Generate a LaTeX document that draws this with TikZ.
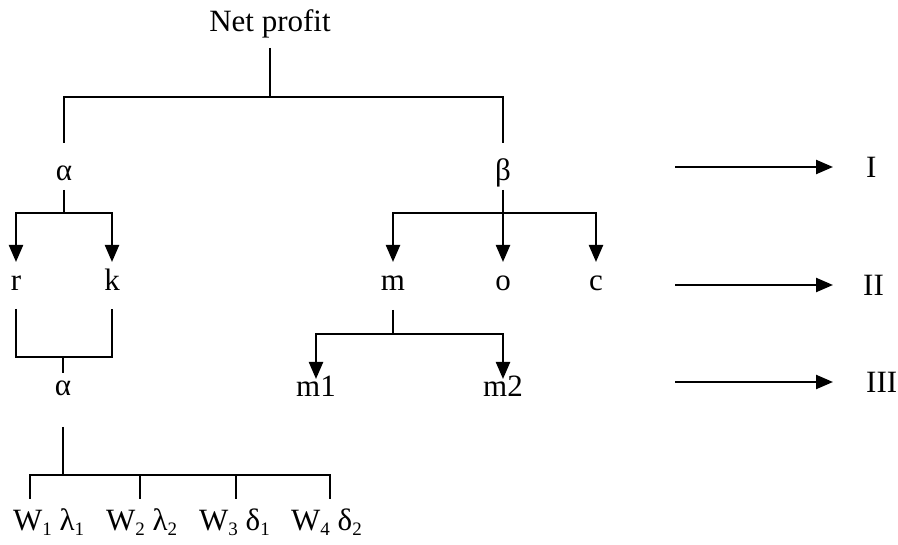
\documentclass[tikz,border=0pt]{standalone}
\usepackage{fontspec}
\setmainfont{Liberation Serif}
\usetikzlibrary{arrows.meta}
\newcommand{\sbx}[1]{\raisebox{-0.35ex}{\fontsize{19}{19}\selectfont #1}}
\begin{document}
\begin{tikzpicture}[x=1pt,y=-1pt,
  lbl/.style={inner sep=0pt, anchor=base, font=\fontsize{31}{34}\selectfont},
  lblw/.style={lbl, anchor=base west},
  rl/.style={inner sep=0pt, anchor=west, font=\fontsize{31}{34}\selectfont},
  ln/.style={line width=2.3pt},
  tipd/.style={ln, -{Triangle[length=17pt,width=14pt]}},
  tipb/.style={ln, {Triangle[length=17pt,width=14pt]}-{Triangle[length=17pt,width=14pt]}},
]
\useasboundingbox (0,0) rectangle (898,545);
% nodes
\node[lbl] (np) at (270,32) {Net profit};
\node[lbl] (a1) at (64,181) {α};
\node[lbl] (b1) at (503,181) {β};
\node[lbl] (r) at (16,291) {r};
\node[lbl] (k) at (112,291) {k};
\node[lbl] (m) at (393,291) {m};
\node[lbl] (o) at (503,291) {o};
\node[lbl] (c) at (596,291) {c};
\node[lbl] (a2) at (63,396) {α};
\node[lbl] (m1) at (316,397) {m1};
\node[lbl] (m2) at (503,397) {m2};
\node[lblw] (w1) at (13,531) {W\sbx{1} λ\sbx{1}};
\node[lblw] (w2) at (106,531) {W\sbx{2} λ\sbx{2}};
\node[lblw] (w3) at (199,531) {W\sbx{3} δ\sbx{1}};
\node[lblw] (w4) at (291,531) {W\sbx{4} δ\sbx{2}};
\node[rl] (L1) at (866,167) {I};
\node[rl] (L2) at (863,285) {II};
\node[rl] (L3) at (866,382) {III};
\coordinate (s1) at (675,167);
\coordinate (s2) at (675,285);
\coordinate (s3) at (675,382);
% top
\draw[ln] ([yshift=-16pt]np.base) -- ([yshift=-65pt]np.base);
\draw[ln] ([yshift=38pt]a1.base) |- ([yshift=84pt]b1.base) -- ([yshift=38pt]b1.base);
% alpha branch
\draw[ln] ([yshift=-9pt]a1.base) -- ([yshift=-32pt]a1.base);
\draw[tipb] ([yshift=29pt]r.base) |- ([yshift=-32pt]a1.base) -| ([yshift=29pt]k.base);
\draw[ln] ([yshift=-18pt]r.base) |- ([yshift=39pt]a2.base) -| ([yshift=-18pt]k.base);
\draw[ln] ([yshift=39pt]a2.base) -- ([yshift=23pt]a2.base);
\draw[ln] ([yshift=-31pt]a2.base) -- ([yshift=-79pt]a2.base);
\draw[ln] ([xshift=17pt,yshift=32pt]w1.base west) |- ([xshift=39pt,yshift=56pt]w4.base west) -- ([xshift=39pt,yshift=32pt]w4.base west);
\draw[ln] ([xshift=34pt,yshift=32pt]w2.base west) -- ([xshift=34pt,yshift=56pt]w2.base west);
\draw[ln] ([xshift=37pt,yshift=32pt]w3.base west) -- ([xshift=37pt,yshift=56pt]w3.base west);
% beta branch
\draw[ln] ([yshift=-9pt]b1.base) -- ([yshift=-32pt]b1.base);
\draw[tipb] ([yshift=29pt]m.base) |- ([yshift=-32pt]b1.base) -| ([yshift=29pt]c.base);
\draw[tipd] ([yshift=-32pt]b1.base) -- ([yshift=29pt]o.base);
\draw[ln] ([yshift=-19pt]m.base) -- ([yshift=-42pt]m.base);
\draw[tipb] ([yshift=18pt]m1.base) |- ([yshift=-43pt]m.base) -| ([yshift=18pt]m2.base);
% level arrows
\draw[tipd, shorten >=33pt] (s1) -- (L1);
\draw[tipd, shorten >=30pt] (s2) -- (L2);
\draw[tipd, shorten >=33pt] (s3) -- (L3);
\end{tikzpicture}
\end{document}
